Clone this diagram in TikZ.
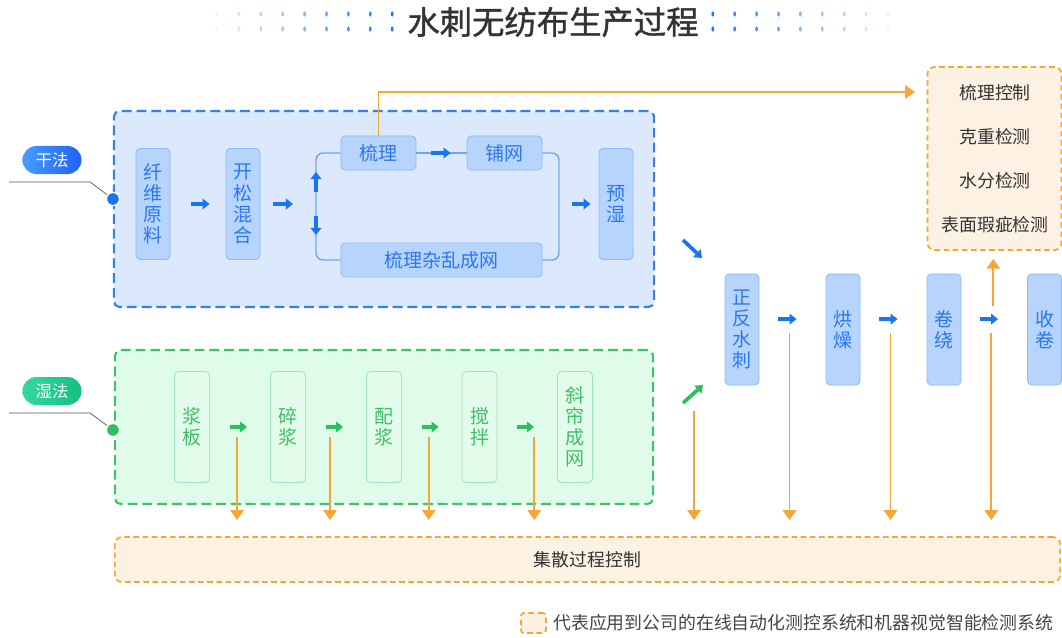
\documentclass[tikz,border=0pt]{standalone}
\usepackage{fontspec}
\setmainfont{Noto Sans CJK SC}
\newfontfamily\titlefam[FakeBold=1.2]{Noto Sans CJK SC}
\usetikzlibrary{arrows.meta,calc}

\definecolor{dryframe}{HTML}{2F80F5}
\definecolor{drybg}{HTML}{DCE9FC}
\definecolor{dryline}{HTML}{8DBBF9}
\definecolor{dryfill}{HTML}{B7D4FD}
\definecolor{drytext}{HTML}{2A78EF}
\definecolor{arrblue}{HTML}{1A73F0}
\definecolor{loopblue}{HTML}{6FA6F4}
\definecolor{wetframe}{HTML}{3CC46B}
\definecolor{wetbg}{HTML}{DFFBE9}
\definecolor{wetline}{HTML}{9FE5B5}
\definecolor{wetfill}{HTML}{E2FBEA}
\definecolor{wettext}{HTML}{3DBF68}
\definecolor{arrgreen}{HTML}{2FBF62}
\definecolor{orng}{HTML}{F7A534}
\definecolor{orfill}{HTML}{FCF1E2}
\definecolor{titlegray}{HTML}{333333}
\definecolor{textgray}{HTML}{444444}
\definecolor{leadgray}{HTML}{555555}
\definecolor{pillbl}{HTML}{4A9BFF}
\definecolor{pillbr}{HTML}{1E63F0}
\definecolor{pillgl}{HTML}{38D6A6}
\definecolor{pillgr}{HTML}{12C07E}

\newcommand{\bxfont}{\fontsize{13.5}{15}\selectfont}
\newcommand{\orfont}{\fontsize{12.7}{15}\selectfont}
\newcommand{\pillfont}{\fontsize{11.7}{14}\selectfont}
\newcommand{\titlefnt}{\titlefam\fontsize{23}{26}\selectfont}

\begin{document}
\begin{tikzpicture}[x=0.025cm, y=-0.025cm,
    frame/.style={rounded corners=4pt, line width=1.5pt, dash pattern=on 7pt off 3.5pt, inner sep=0pt},
    vbox/.style={rounded corners=3pt, line width=0.6pt, minimum width=0.85cm, minimum height=2.775cm, inner sep=0pt, align=center, font=\bxfont},
    dry/.style={vbox, draw=dryline, fill=dryfill, text=drytext},
    hbox/.style={dry, minimum height=0.85cm, minimum width=1.875cm},
    wet/.style={vbox, draw=wetline, fill=wetfill, text=wettext, minimum width=0.875cm},
    orbox/.style={draw=orng, fill=orfill, rounded corners=5pt, line width=1.2pt, dash pattern=on 4pt off 2.5pt, inner sep=0pt, font=\orfont, text=titlegray},
    loopln/.style={draw=loopblue, line width=1pt, rounded corners=5pt},
    barr/.style={draw=arrblue, line width=2.6pt, -{Triangle[width=7.5pt,length=5pt]}},
    garr/.style={barr, draw=arrgreen},
    oarr/.style={draw=orng, line width=1.2pt, -{Triangle[width=9.5pt,length=7pt]}},
    pill/.style={rounded corners=0.35cm, minimum width=1.475cm, minimum height=0.7cm, text=white, font=\pillfont, inner sep=0pt},
    pin/.style={circle, draw=white, line width=1pt, minimum size=0.33cm, inner sep=0pt},
    lead/.style={draw=leadgray, line width=0.5pt}]
    \useasboundingbox (0,0) rectangle (1062,637);

    % title
    \node[font=\titlefnt, text=titlegray] (ttl) at (553,22) {水刺无纺布生产过程};
    \foreach \i in {0,...,8} {
        \pgfmathsetmacro\op{0.08+\i*0.11}
        \fill[arrblue, opacity=\op] (217+\i*21.9,14) ellipse (0.035cm and 0.065cm);
        \fill[arrblue, opacity=\op] (217+\i*21.9,29) ellipse (0.035cm and 0.065cm);
        \fill[arrblue, opacity=\op] (888-\i*21.9,14) ellipse (0.035cm and 0.065cm);
        \fill[arrblue, opacity=\op] (888-\i*21.9,29) ellipse (0.035cm and 0.065cm);
    }

    % frames
    \node[frame, draw=dryframe, fill=drybg, minimum width=13.5cm, minimum height=4.9cm] (dryf) at (384,209) {};
    \node[frame, draw=wetframe, fill=wetbg, minimum width=13.45cm, minimum height=3.85cm] (wetf) at (384,427) {};

    % dry line
    \node[dry] (xwyl) at (153,204) {纤\\维\\原\\料};
    \node[dry] (ksh) at (243,204) {开\\松\\混\\合};
    \node[hbox] (sl) at (378.5,153) {梳理};
    \node[hbox] (pw) at (504.5,153) {铺网};
    \node[hbox, minimum width=5.025cm] (slz) at (441.5,260) {梳理杂乱成网};
    \node[dry] (ys) at (616,204) {预\\湿};
    \coordinate (lx) at (316,204);
    \coordinate (rx) at (559,204);

    \draw[loopln] (sl.west) -| (lx |- slz.west) -- (slz.west);
    \draw[loopln] (pw.east) -| (rx |- slz.east) -- (slz.east);
    \draw[loopln] (sl) -- (pw);
    \draw[barr, shorten <=0.375cm, shorten >=0.4cm] (sl) -- (pw);
    \draw[barr, shorten <=0.525cm, shorten >=0.4cm] (xwyl) -- (ksh);
    \draw[barr, shorten <=0.325cm, shorten >=0.575cm] (ksh) -- (lx);
    \draw[barr, shorten <=0.3cm, shorten >=0.475cm] (lx) -- (lx |- sl.west);
    \draw[barr, shorten <=0.3cm, shorten >=0.625cm] (lx) -- (lx |- slz.west);
    \draw[barr, shorten <=0.325cm, shorten >=0.2cm] (rx) -- (ys);

    % wet line
    \node[wet] (jb) at (192,427) {浆\\板};
    \node[wet] (sj) at (288,427) {碎\\浆};
    \node[wet] (pj) at (384,427) {配\\浆};
    \node[wet] (jbn) at (479.5,427) {搅\\拌};
    \node[wet] (xl) at (575,427) {斜\\帘\\成\\网};

    % collection
    \node[orbox, minimum width=23.625cm, minimum height=1.125cm] (dcs) at (587.5,559.5) {集散过程控制};
    \coordinate (obase) at (0,520);

    \foreach \a/\b/\dx in {jb/sj/-3, sj/pj/-6, pj/jbn/-3, jbn/xl/7} {
        \draw[garr, shorten <=0.5cm, shorten >=0.575cm] (\a) -- (\b);
        \coordinate (m\a) at ($(\a)!.5!(\b)+(\dx,10)$);
        \draw[oarr] (m\a) -- (m\a |- obase);
    }

    % finishing line
    \node[dry] (zfsc) at (742,329.5) {正\\反\\水\\刺};
    \node[dry] (hz) at (843,329.5) {烘\\燥};
    \node[dry] (jr) at (944,329.5) {卷\\绕};
    \node[dry] (shj) at (1044.5,329.5) {收\\卷};

    \foreach \a/\b in {zfsc/hz, hz/jr, jr/shj} {
        \draw[barr, shorten <=0.475cm, shorten >=0.725cm] ([yshift=0.26cm]\a.east) -- ([yshift=0.26cm]\b.west);
        \coordinate (m\a) at ($(\a)!.5!(\b)+(-3,3)$);
        \draw[oarr] (m\a) -- (m\a |- obase);
    }

    \coordinate (da1) at (683,240);
    \coordinate (da2) at (702,258);
    \draw[barr] (da1) -- (da2);
    \coordinate (dg1) at (683,403);
    \coordinate (dg2) at (703,385);
    \draw[garr] (dg1) -- (dg2);
    \coordinate (dw) at (694,411);
    \draw[oarr] (dw) -- (dw |- obase);

    % inspection
    \node[orbox, minimum width=3.35cm, minimum height=4.575cm] (jc) at (994.5,158.5) {};
    \foreach \t [count=\k] in {梳理控制,克重检测,水分检测,表面瑕疵检测}
        \node[font=\orfont, text=titlegray] (c\k) at (995,49+44*\k) {\t};
    \coordinate (jcin) at (915,92);
    \draw[oarr] (sl.north) |- (jcin);
    \coordinate (up) at ($(jr)!.5!(shj)+(-1,-23.5)$);
    \draw[oarr, shorten >=0.2cm] (up) -- (up |- jc.south);

    % labels
    \node[pill, left color=pillbl, right color=pillbr] (gf) at (52,160) {干法};
    \node[pin, fill=arrblue] (gdot) at (113,199) {};
    \coordinate (gl) at (9,182);
    \draw[lead] (gl) -- (90,182) -- (gdot);
    \node[pill, left color=pillgl, right color=pillgr] (sf) at (52,391) {湿法};
    \node[pin, fill=arrgreen] (sdot) at (113,430) {};
    \coordinate (sl0) at (9,413);
    \draw[lead] (sl0) -- (90,413) -- (sdot);

    % legend
    \node[orbox, rounded corners=2pt, minimum width=0.625cm, minimum height=0.5cm] (lg) at (533.5,623) {};
    \node[anchor=west, font=\orfont, text=textgray, inner sep=0pt] (lgt) at (553,623) {代表应用到公司的在线自动化测控系统和机器视觉智能检测系统};
\end{tikzpicture}
\end{document}
